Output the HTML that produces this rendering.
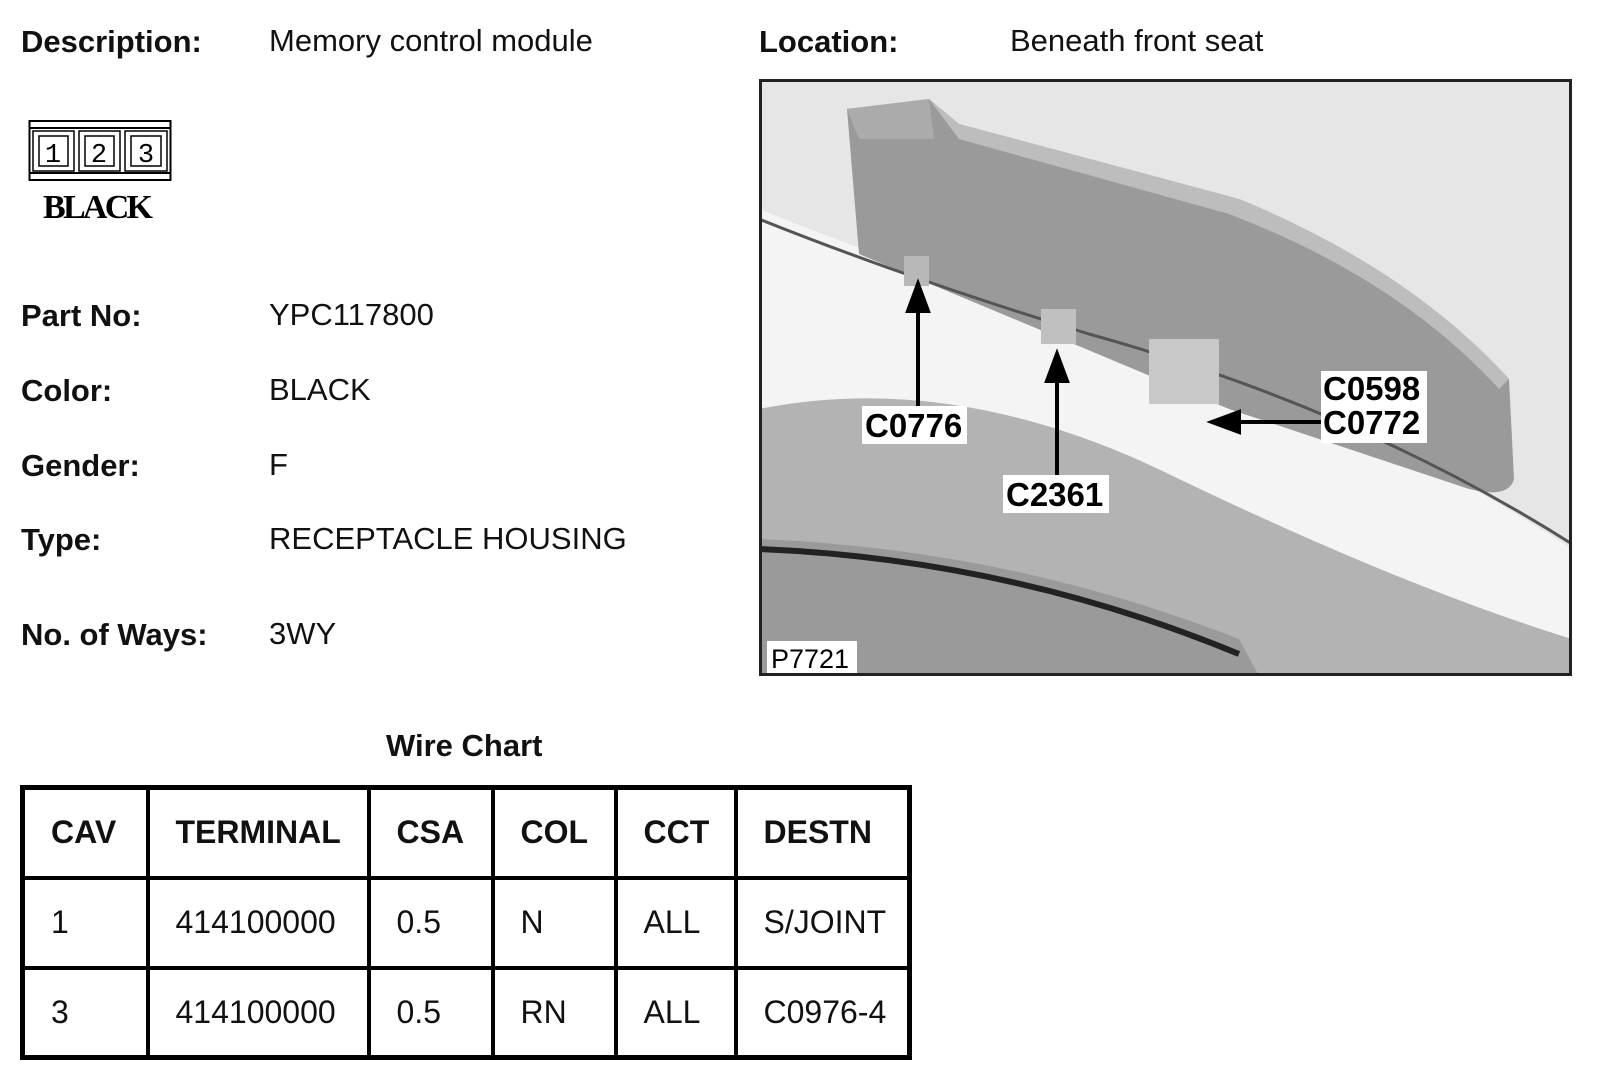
<!DOCTYPE html>
<html><head><meta charset="utf-8"><style>
body{margin:0;width:1600px;height:1083px;background:#fff;position:relative;overflow:hidden;font-family:"Liberation Sans",sans-serif;color:#111}
.t{position:absolute;white-space:nowrap;font-size:31px;line-height:1}
.b{font-weight:bold}
table{position:absolute;left:20px;top:785px;border-collapse:collapse;border:5px solid #000}
td{border:4px solid #000;font-size:32px;padding:0 0 0 26px;height:90px;box-sizing:border-box}
</style></head><body>
<div class="t b" style="left:21px;top:26px">Description:</div>
<div class="t" style="left:269px;top:25px">Memory control module</div>
<div class="t b" style="left:759px;top:26px">Location:</div>
<div class="t" style="left:1010px;top:25px">Beneath front seat</div>

<svg style="position:absolute;left:28px;top:118px" width="146" height="110">
<rect x="1.5" y="3" width="141" height="59" fill="none" stroke="#000" stroke-width="2"/>
<line x1="1" y1="10" x2="143" y2="10" stroke="#000" stroke-width="2"/>
<line x1="1" y1="55" x2="143" y2="55" stroke="#000" stroke-width="2"/>
<g fill="none" stroke="#000" stroke-width="1.5">
<rect x="5" y="13" width="41" height="40"/><rect x="11" y="18" width="29" height="30"/>
<rect x="51" y="13" width="41" height="40"/><rect x="57" y="18" width="29" height="30"/>
<rect x="97" y="13" width="42" height="40"/><rect x="103" y="18" width="30" height="30"/>
</g>
<text x="25" y="44" font-family="Liberation Mono" font-size="27" text-anchor="middle">1</text>
<text x="71" y="44" font-family="Liberation Mono" font-size="27" text-anchor="middle">2</text>
<text x="118" y="44" font-family="Liberation Mono" font-size="27" text-anchor="middle">3</text>
<text x="70" y="100" font-family="Liberation Serif" font-weight="bold" font-size="34" text-anchor="middle" textLength="110">BLACK</text>
</svg>

<div class="t b" style="left:21px;top:300px">Part No:</div>
<div class="t" style="left:269px;top:299px">YPC117800</div>
<div class="t b" style="left:21px;top:375px">Color:</div>
<div class="t" style="left:269px;top:374px">BLACK</div>
<div class="t b" style="left:21px;top:450px">Gender:</div>
<div class="t" style="left:269px;top:449px">F</div>
<div class="t b" style="left:21px;top:524px">Type:</div>
<div class="t" style="left:269px;top:523px">RECEPTACLE HOUSING</div>
<div class="t b" style="left:21px;top:619px">No. of Ways:</div>
<div class="t" style="left:269px;top:618px">3WY</div>

<svg style="position:absolute;left:759px;top:79px" width="813" height="597">
<rect x="0" y="0" width="813" height="597" fill="#e6e6e6"/>
<path d="M0 130 Q150 190 330 250 Q600 330 813 470 L813 597 L0 597 Z" fill="#f4f4f4"/>
<path d="M0 330 Q200 290 420 400 Q650 510 813 560 L813 597 L0 597 Z" fill="#b3b3b3"/>
<path d="M0 460 Q250 470 480 560 L500 597 L0 597 Z" fill="#9a9a9a"/>
<path d="M0 470 Q250 480 480 575" stroke="#222" stroke-width="6" fill="none"/>
<path d="M88 30 L170 20 L200 45 L480 120 Q650 190 750 300 L755 400 Q750 420 710 410 L470 330 L100 175 Z" fill="#9a9a9a"/>
<path d="M170 20 L200 45 L480 120 Q650 190 750 300 L740 310 Q640 200 470 135 L200 60 Z" fill="#bdbdbd"/>
<path d="M88 30 L170 20 L175 60 L100 60 Z" fill="#ababab"/>
<path d="M0 140 Q150 200 330 255 Q600 330 813 465" stroke="#555" stroke-width="3" fill="none"/>
<rect x="145" y="177" width="25" height="30" fill="#b8b8b8"/>
<rect x="282" y="230" width="35" height="35" fill="#c0c0c0"/>
<rect x="390" y="260" width="70" height="65" fill="#c8c8c8"/>
<g stroke="#000" stroke-width="4" fill="#000">
<line x1="159" y1="335" x2="159" y2="230"/><polygon points="159,205 149,232 169,232"/>
<line x1="298" y1="402" x2="298" y2="300"/><polygon points="298,275 288,302 308,302"/>
<line x1="568" y1="343" x2="478" y2="343"/><polygon points="453,343 480,333 480,353"/>
</g>
<g font-family="Liberation Sans" font-weight="bold" font-size="33" fill="#000">
<rect x="103" y="327" width="105" height="38" fill="#fff"/><text x="106" y="358">C0776</text>
<rect x="244" y="396" width="106" height="38" fill="#fff"/><text x="247" y="427">C2361</text>
<rect x="562" y="292" width="106" height="72" fill="#fff"/><text x="564" y="321">C0598</text><text x="564" y="355">C0772</text>
</g>
<rect x="8" y="562" width="90" height="33" fill="#fff"/>
<text x="12" y="589" font-family="Liberation Sans" font-size="27" fill="#000">P7721</text>
<rect x="1.5" y="1.5" width="810" height="594" fill="none" stroke="#222" stroke-width="3"/>
</svg>

<div class="t b" style="left:386px;top:730px">Wire Chart</div>
<table>
<tr><td style="width:125px;font-weight:bold">CAV</td><td style="width:221px;font-weight:bold">TERMINAL</td><td style="width:124px;font-weight:bold">CSA</td><td style="width:123px;font-weight:bold">COL</td><td style="width:120px;font-weight:bold">CCT</td><td style="width:174px;font-weight:bold">DESTN</td></tr>
<tr><td>1</td><td>414100000</td><td>0.5</td><td>N</td><td>ALL</td><td>S/JOINT</td></tr>
<tr><td>3</td><td>414100000</td><td>0.5</td><td>RN</td><td>ALL</td><td>C0976-4</td></tr>
</table>
</body></html>
